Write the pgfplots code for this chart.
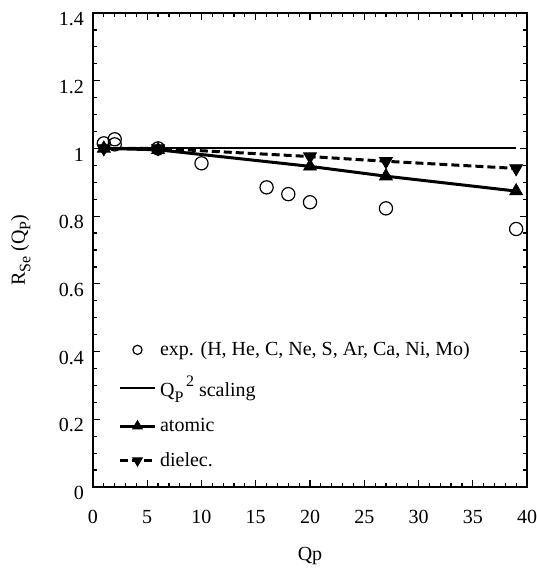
\documentclass[border=0pt]{standalone}
\usepackage{fontspec}
\setmainfont{Liberation Serif}
\usepackage{pgfplots}
\pgfplotsset{compat=1.18}
\begin{document}
\begin{tikzpicture}
\begin{axis}[
  scale only axis, width=217pt, height=237pt,
  xmin=0, xmax=40, ymin=0, ymax=1.4,
  xtick={0,5,10,15,20,25,30,35,40},
  ytick={0,0.2,0.4,0.6,0.8,1,1.2,1.4},
  yticklabels={0,0.2,0.4,0.6,0.8,1,1.2,1.4},
  minor x tick num=4, minor y tick num=3,
  tick align=inside, major tick length=3.5pt, minor tick length=2pt,
  axis line style={line width=0.8pt},
  every tick/.style={black, line width=0.6pt},
  /pgf/number format/assume math mode=true,
  xticklabel style={yshift=-8pt},
  yticklabel style={yshift=-3pt, xshift=-1pt},
  xlabel={Qp}, ylabel={R\raisebox{-0.6ex}{\footnotesize Se} (Q\raisebox{-0.6ex}{\footnotesize P})},
  every axis x label/.style={at={(axis description cs:0.5,-0.155)}, anchor=base},
  every axis y label/.style={at={(axis description cs:-0.157,0.5)}, rotate=90, anchor=base},
  legend style={at={(axis description cs:0.045,0.02)}, anchor=south west, draw=none, fill=none, row sep=5pt},
  legend cell align=left,
]
\addplot[only marks, mark=o, mark size=3.3pt, mark options={line width=0.6pt}, legend image post style={mark size=2.3pt}]
  coordinates {(1,1.015) (2,1.027) (2,1.012) (6,1.0) (10,0.956) (16,0.885) (18,0.865) (20,0.841) (27,0.823) (39,0.762)};
\addlegendentry{exp. (H, He, C, Ne, S, Ar, Ca, Ni, Mo)}
\addplot[line width=1pt, mark=none] coordinates {(1,1) (39,1)};
\addlegendentry{Q\raisebox{-0.6ex}{\footnotesize P}\raisebox{1.1ex}{\footnotesize\,2} scaling}
\addplot[line width=1.5pt, mark=triangle*, mark size=3.7pt, mark options={solid, line width=0.4pt}, legend image post style={mark size=2.8pt}] coordinates {(1,1.0) (6,0.996) (20,0.947) (27,0.918) (39,0.874)};
\addlegendentry{atomic}
\addplot[line width=1.5pt, dash pattern=on 4pt off 2pt, mark=triangle*, mark size=3.7pt, mark options={solid, rotate=180, line width=0.4pt}, legend image post style={mark size=2.8pt}] coordinates {(1,1.0) (6,1.0) (20,0.976) (27,0.962) (39,0.941)};
\addlegendentry{dielec.}
\end{axis}
\pgfresetboundingbox
\path ([shift={(-46.5pt,-42.5pt)}]current axis.south west) rectangle ([shift={(4.5pt,6.5pt)}]current axis.north east);
\end{tikzpicture}
\end{document}
